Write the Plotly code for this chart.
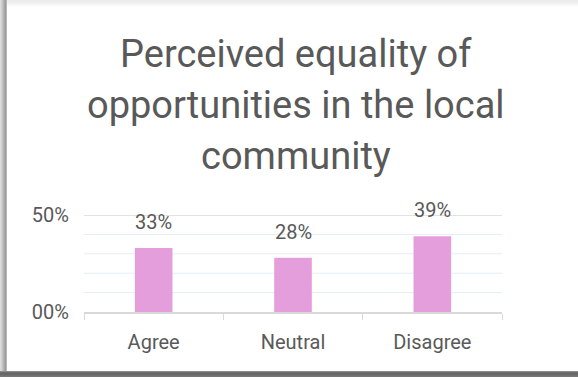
import plotly.graph_objects as go

# Survey responses
categories = ["Agree", "Neutral", "Disagree"]
shares = [33, 28, 39]  # percent of respondents
value_labels = ["33%", "28%", "39%"]
y_tick_vals = [0, 50]
y_tick_text = ["00%", "50%"]
minor_grid_vals = [10, 20, 30, 40]
title_lines = ["Perceived equality of", "opportunities in the local", "community"]

W, H = 578, 377
PL, PR, PT, PB = 84, 502, 215, 312  # plot area in pixels

TEXT = "#595959"
FONT = "Roboto"
LABEL_SIZE = 20

fig = go.Figure()
fig.add_trace(go.Bar(
    x=categories, y=shares, width=0.27,
    marker=dict(color="#E59EDC", line=dict(width=0)),
    hoverinfo="skip",
))

# value labels above each bar
for c, v, t in zip(categories, shares, value_labels):
    fig.add_annotation(x=c, y=v, text=t, showarrow=False, yanchor="bottom",
                       yshift=12, font=dict(family=FONT, size=LABEL_SIZE, color=TEXT))

# light minor gridlines
for g in minor_grid_vals:
    fig.add_shape(type="line", xref="paper", yref="y", x0=0, x1=1, y0=g, y1=g,
                  line=dict(color="#E3EEF7", width=1), layer="below")
# top major gridline
fig.add_shape(type="line", xref="paper", yref="y", x0=0, x1=1, y0=50, y1=50,
              line=dict(color="#D9D9D9", width=1.5), layer="below")


def px_x(p):
    return (p - PL) / (PR - PL)


def px_y(p):
    return (PB - p) / (PB - PT)


def rect(x0, y0, x1, y1, color):
    fig.add_shape(type="rect", xref="paper", yref="paper",
                  x0=px_x(x0), x1=px_x(x1), y0=px_y(y0), y1=px_y(y1),
                  fillcolor=color, line=dict(width=0), layer="above")


# card frame shading
top_shades = ["#ececec", "#ededed", "#efefef", "#f2f2f2", "#f6f6f6", "#fafafa"]
for i, c in enumerate(top_shades):
    rect(0, i, W, i + 1, c)
left_shades = ["#dcdcdc", "#d0d0d0", "#c4c4c4", "#b6b6b6", "#a8a8a8", "#9c9c9c", "#b8b8b8"]
for i, c in enumerate(left_shades):
    rect(i, 0, i + 1, H, c)
bottom_shades = ["#8a8a8a", "#6e6e6e", "#666666", "#6a6a6a", "#707070", "#777777"]
for i, c in enumerate(bottom_shades):
    rect(0, 371 + i, W, 372 + i, c)

# three-line chart title
for i, line in enumerate(title_lines):
    fig.add_annotation(
        xref="paper", yref="paper", x=px_x(296), y=px_y(54 + 51 * i),
        yanchor="middle", text=line, showarrow=False,
        font=dict(family=FONT, size=38, color=TEXT),
    )

fig.update_layout(
    width=W, height=H,
    margin=dict(l=PL, r=W - PR, t=PT, b=H - PB, pad=0),
    paper_bgcolor="white", plot_bgcolor="white",
    showlegend=False,
    xaxis=dict(
        showgrid=False, showline=True, linecolor="#D9D9D9", linewidth=1.5,
        ticks="outside", tickson="boundaries", ticklen=6, tickcolor="#D9D9D9",
        tickfont=dict(family=FONT, size=LABEL_SIZE, color=TEXT),
        ticklabelstandoff=11, fixedrange=True,
    ),
    yaxis=dict(
        range=[0, 50], tickvals=y_tick_vals, ticktext=y_tick_text,
        showgrid=True, gridcolor="#D9D9D9", gridwidth=1.5,
        zeroline=False, showline=False, ticks="",
        tickfont=dict(family=FONT, size=LABEL_SIZE, color=TEXT),
        ticklabelstandoff=14, fixedrange=True,
    ),
)

fig.write_html("out.html")
